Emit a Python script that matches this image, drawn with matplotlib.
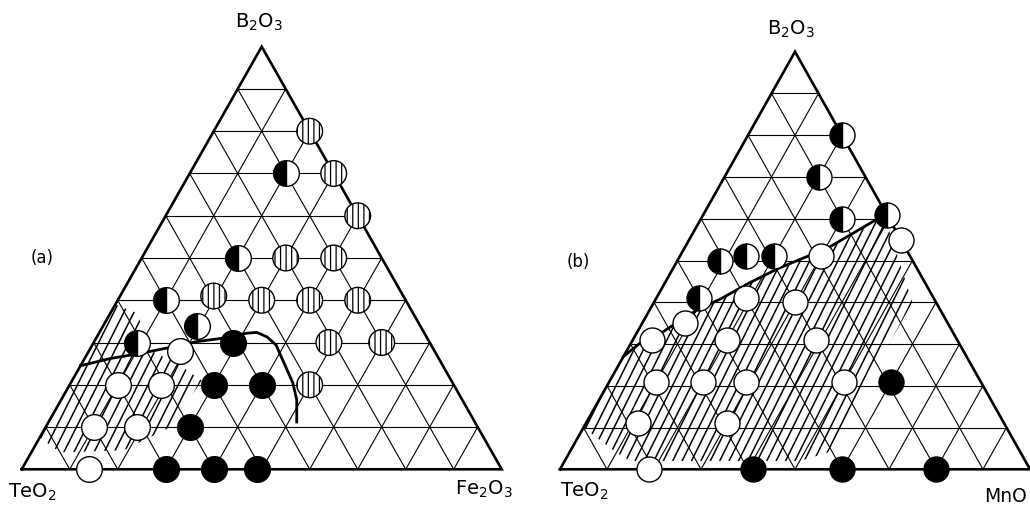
"""
Ternary glass-formation diagrams: TeO2-B2O3-Fe2O3 (a) and TeO2-B2O3-MnO (b).
"""
import numpy as np
import matplotlib
matplotlib.use('Agg')
import matplotlib.pyplot as plt
from matplotlib.patches import Polygon
from matplotlib.collections import LineCollection

plt.rcParams['mathtext.default'] = 'regular'
plt.rcParams['hatch.linewidth'] = 0.9

# compositions in mol% : (B2O3, second oxide); TeO2 is the rest
# (a) second oxide = Fe2O3
a_open_B = [0, 10, 10, 20, 20, 28]
a_open_M = [14, 10, 19, 10, 19, 19]
a_black_B = [0, 0, 0, 10, 20, 20, 30]
a_black_M = [30, 40, 49, 30, 30, 40, 29]
a_half_B = [30, 34, 40, 50, 70]
a_half_M = [9, 19.5, 10, 20, 20]
a_striped_B = [20, 30, 30, 41, 40, 40, 40, 50, 50, 60, 70, 80]
a_striped_M = [50, 49, 60, 19.5, 30, 40, 50, 30, 40, 40, 30, 20]
a_curve_B = [24.5, 26.2, 27.4, 29.0, 30.2, 31.0, 32.2, 32.4, 31.3, 29.4, 25.8, 20.4, 16.4, 11.2]
a_curve_M = [0, 5.3, 10.9, 17.1, 21.3, 26.2, 30.8, 32.8, 35.5, 38.3, 41.5, 46.3, 49.1, 51.7]
a_glass_B = [7.5, 39, 37, 28, 25, 21, 10, 4.5, 4]
a_glass_M = [0, 0, 5.5, 13, 20, 27, 26, 19, 6]

# (b) second oxide = MnO
b_open_B = [55, 51, 41, 40, 35, 31, 31, 31, 21, 21, 21, 21, 11, 11, 0]
b_open_M = [45, 30, 19, 30, 9, 4, 20, 39, 10, 20, 29, 50, 11, 30, 19]
b_black_B = [21, 0, 0, 0]
b_black_M = [60, 41, 60, 80]
b_half_B = [80, 70, 60, 61, 50, 51, 51, 41]
b_half_M = [20, 20, 30, 39, 9, 14, 20, 9]
b_curve_B = [27, 30.2, 33, 38.1, 40.9, 44.5, 48.1, 50.9, 53.3, 59.7, 61]
b_curve_M = [0, 1.9, 5.5, 10, 13.9, 17.8, 22.4, 27, 30.8, 37.3, 38.5]
b_glass_B = [10, 27, 30.2, 33, 38.1, 40.9, 44.5, 48.1, 50.9, 53.3, 59.7, 59, 40, 4, 2, 2, 4]
b_glass_M = [0, 0, 1.9, 5.5, 10, 13.9, 17.8, 22.4, 27, 30.8, 37.3, 40, 55, 55, 50, 14, 10]

S3 = np.sqrt(3) / 2


def to_xy(b, m):
    b = np.asarray(b, float) / 10
    m = np.asarray(m, float) / 10
    return m + b / 2, b * S3


def draw_grid(ax):
    segs = []
    for k in range(1, 10):
        segs.append([(k / 2, k * S3), (10 - k / 2, k * S3)])
        segs.append([(k, 0), (k + (10 - k) / 2, (10 - k) * S3)])
        segs.append([(10 - k, 0), ((10 - k) / 2, (10 - k) * S3)])
    ax.add_collection(LineCollection(segs, colors='k', linewidths=0.8, zorder=1))
    ax.plot([0, 10, 5, 0], [0, 0, 10 * S3, 0], color='k', lw=1.9, zorder=2,
            solid_joinstyle='miter')


def hatch_region(ax, b, m, spacing=0.2, angle=63):
    x, y = to_xy(b, m)
    poly = Polygon(np.column_stack([x, y]), closed=True, fc='none', ec='none')
    ax.add_patch(poly)
    t = 1 / np.tan(np.radians(angle))
    segs = [[(x0, -1), (x0 + 11 * t, 10)] for x0 in np.arange(-8, 11, spacing)]
    lc = LineCollection(segs, colors='k', linewidths=1.1, zorder=1.5)
    ax.add_collection(lc)
    lc.set_clip_path(poly)


def draw_points(ax, kind, b, m, ms):
    x, y = to_xy(b, m)
    if kind == 'open':
        ax.plot(x, y, 'o', ms=ms, mfc='white', mec='k', mew=1.0, zorder=4)
    elif kind == 'black':
        ax.plot(x, y, 'o', ms=ms, mfc='k', mec='k', mew=1.0, zorder=4)
    elif kind == 'half':
        ax.plot(x, y, 'o', ms=ms, fillstyle='left', mfc='k',
                markerfacecoloralt='white', mec='k', mew=1.0, zorder=4)
    elif kind == 'striped':
        ax.scatter(x, y, s=ms ** 2, marker='o', facecolor='white', edgecolor='k',
                   hatch='|||', linewidths=1.0, zorder=4)


W, H = 1030, 509
fig = plt.figure(figsize=(W / 100, H / 100), dpi=100)


def make_ax(ax_left, ax_right, x0, ux, base, apex):
    ax = fig.add_axes([ax_left / W, 0, (ax_right - ax_left) / W, 1])
    uy = (base - apex) / (10 * S3)
    ax.set_xlim((ax_left - x0) / ux, (ax_right - x0) / ux)
    ax.set_ylim(-(H - base) / uy, base / uy)
    ax.axis('off')
    return ax


# (a)
ax1 = make_ax(0, 515, 21.7, 48, 469.3, 46.7)
draw_grid(ax1)
hatch_region(ax1, a_glass_B, a_glass_M, spacing=0.21)
cx, cy = to_xy(a_curve_B, a_curve_M)
ax1.plot(cx, cy, color='k', lw=2.0, zorder=3)
draw_points(ax1, 'open', a_open_B, a_open_M, 18.5)
draw_points(ax1, 'black', a_black_B, a_black_M, 18.5)
draw_points(ax1, 'half', a_half_B, a_half_M, 18.5)
draw_points(ax1, 'striped', a_striped_B, a_striped_M, 18.5)

# (b)
ax2 = make_ax(515, 1030, 560, 47, 469.3, 51.7)
draw_grid(ax2)
hatch_region(ax2, b_glass_B, b_glass_M, spacing=0.2)
cx, cy = to_xy(b_curve_B, b_curve_M)
ax2.plot(cx, cy, color='k', lw=2.0, zorder=3)
draw_points(ax2, 'open', b_open_B, b_open_M, 18)
draw_points(ax2, 'black', b_black_B, b_black_M, 18)
draw_points(ax2, 'half', b_half_B, b_half_M, 18)


def label(x, y, s, ha='left', va='baseline', size=14):
    fig.text(x / W, 1 - y / H, s, ha=ha, va=va, fontsize=size)


label(259, 28, 'B$_2$O$_3$', ha='center')
label(8, 498, 'TeO$_2$')
label(455, 495, 'Fe$_2$O$_3$')
label(31, 258, '(a)', va='center', size=12)
label(791, 35, 'B$_2$O$_3$', ha='center')
label(560, 497, 'TeO$_2$')
label(1027, 502, 'MnO', ha='right', size=13.5)
label(567, 262, '(b)', va='center', size=12)

fig.savefig('out.png', dpi=100, facecolor='white')
